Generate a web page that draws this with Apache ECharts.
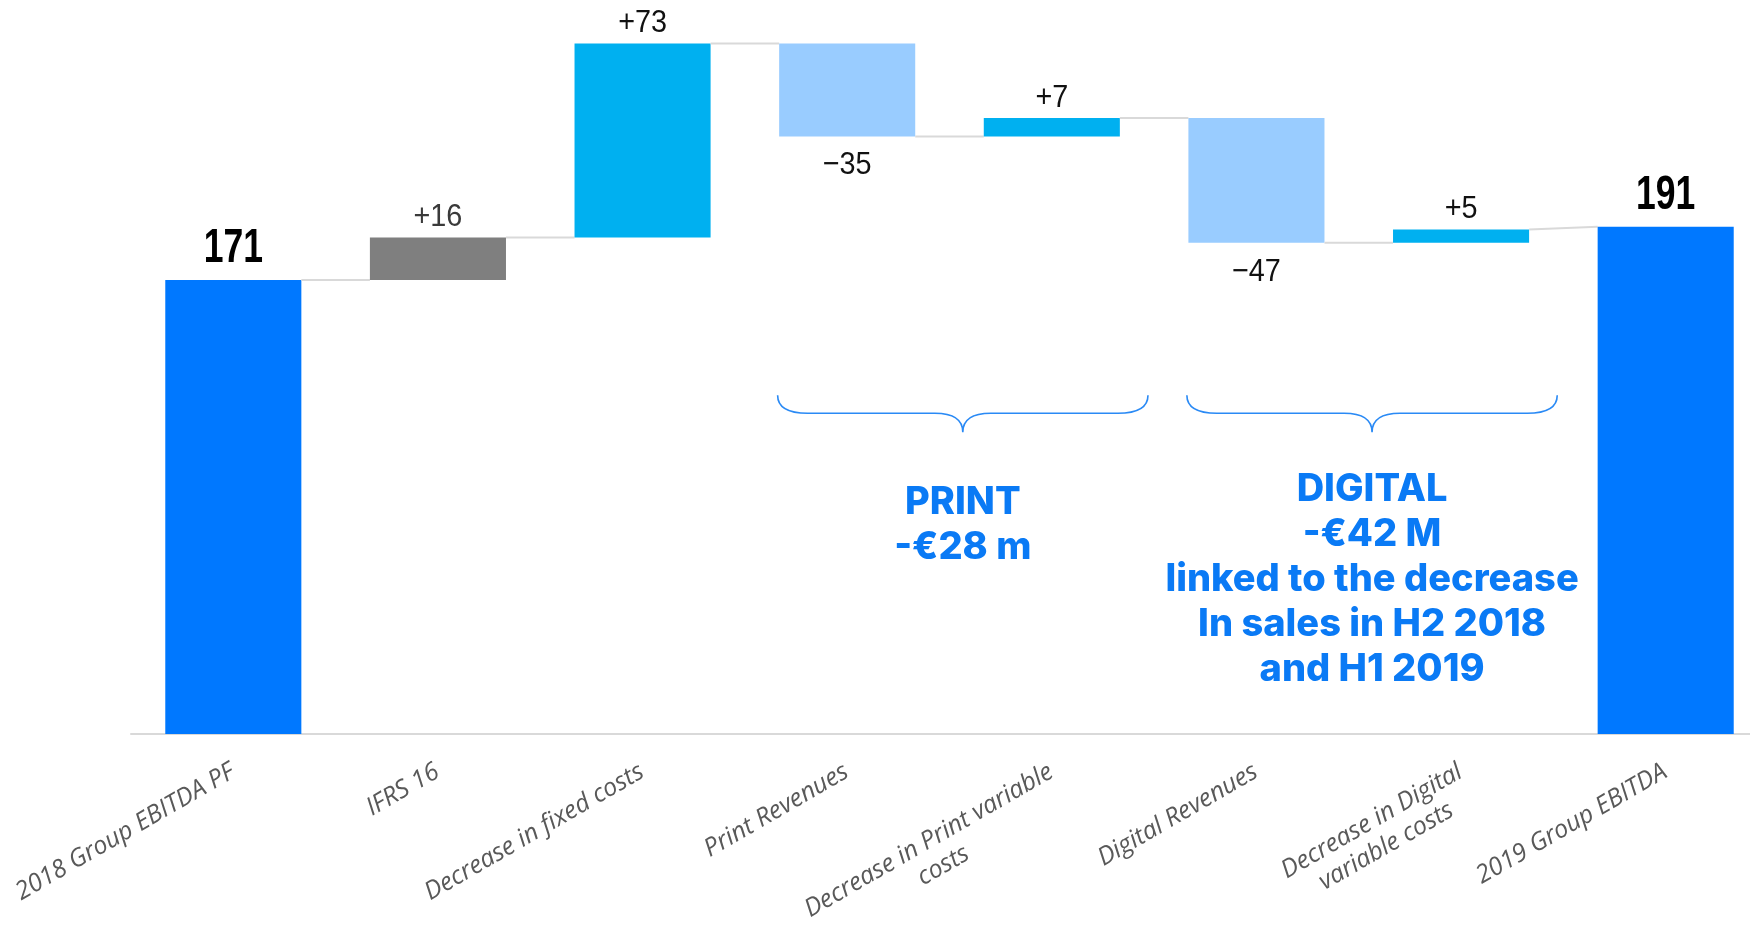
<!DOCTYPE html>
<html>
<head>
<meta charset="utf-8">
<script src="https://cdn.jsdelivr.net/npm/echarts@6/dist/echarts.min.js"></script>
<style>
html,body{margin:0;padding:0;background:#ffffff;}
#chart{width:1750px;height:926px;}
</style>
</head>
<body>
<div id="chart"></div>
<script>
// ---------- DATA ----------
const categories = [
  '2018 Group EBITDA PF',
  'IFRS 16',
  'Decrease in fixed costs',
  'Print Revenues',
  'Decrease in Print variable\ncosts',
  'Digital Revenues',
  'Decrease in Digital\nvariable costs',
  '2019 Group EBITDA'
];
const values = [171, 16, 73, -35, 7, -47, 5, 191];
const kinds = ['total', 'adjust', 'increase', 'decrease', 'increase', 'decrease', 'increase', 'total'];
const valueLabels = ['171', '+16', '+73', '\u221235', '+7', '\u221247', '+5', '191'];
const groupRanges = [[3, 4], [5, 6]];
const groupTexts = [
  'PRINT\n-€28 m',
  'DIGITAL\n-€42 M\nlinked to the decrease\nIn sales in H2 2018\nand H1 2019'
];
const yMin = 0;
const yMax = 270;

// ---------- STYLE / LAYOUT ----------
const STYLE = {
  colors: { total: '#0078FF', adjust: '#7F7F7F', increase: '#00B0F0', decrease: '#99CCFF' },
  labelColors: { total: '#000000', adjust: '#3a3a3a', increase: '#111111', decrease: '#111111' },
  connector: '#d9d9d9',
  brace: '#2a8af5',
  note: '#0a7af5',
  numFont: '"Liberation Sans", Roboto, sans-serif',
  noteFont: 'Inter, Roboto, sans-serif',
  catFont: '"Open Sans", "Noto Sans", sans-serif'
};
const LAYOUT = {
  barRatio: 0.665,
  braceLevel: 120.8,
  braceLeft: 0.34,
  braceRight: 0.47,
  textOffsets: [48, 35]
};

// ---------- BUILD ----------
let running = 0;
const barData = values.map((v, i) => {
  let lo, hi, end;
  if (kinds[i] === 'total') { lo = 0; hi = v; end = v; running = v; }
  else { const s = running; running += v; lo = Math.min(s, running); hi = Math.max(s, running); end = running; }
  return { lo, hi, end };
}).map((b, i) => {
  let next = b.end;
  if (i < values.length - 1 && kinds[i + 1] === 'total') next = values[i + 1];
  return [i, b.lo, b.hi, b.end, next];
});

function renderBar(params, api) {
  const i = api.value(0), lo = api.value(1), hi = api.value(2), end = api.value(3), next = api.value(4);
  const kind = kinds[i];
  const catW = api.size([1, 0])[0];
  const bw = catW * LAYOUT.barRatio;
  const pLo = api.coord([i, lo]);
  const pHi = api.coord([i, hi]);
  const cx = pLo[0];
  const children = [{
    type: 'rect',
    shape: { x: cx - bw / 2, y: pHi[1], width: bw, height: pLo[1] - pHi[1] },
    style: { fill: STYLE.colors[kind] }
  }];
  if (i < categories.length - 1) {
    const a = api.coord([i, end]);
    const b = api.coord([i + 1, next]);
    children.push({
      type: 'line',
      shape: { x1: cx + bw / 2, y1: a[1], x2: b[0] - bw / 2, y2: b[1] },
      style: { stroke: STYLE.connector, lineWidth: 2 }
    });
  }
  const v = values[i];
  let ly, size, weight, sx;
  if (kind === 'total') { ly = pHi[1] - 31; size = 48; weight = 'bold'; sx = 0.74; }
  else if (v >= 0) { ly = pHi[1] - 20; size = 32; weight = 'normal'; sx = 0.9; }
  else { ly = pLo[1] + 29; size = 32; weight = 'normal'; sx = 0.9; }
  children.push({
    type: 'text',
    x: cx, y: ly, scaleX: sx,
    style: {
      text: valueLabels[i],
      fill: STYLE.labelColors[kind],
      fontSize: size, fontWeight: weight, fontFamily: STYLE.numFont,
      align: 'center', verticalAlign: 'middle'
    }
  });
  return { type: 'group', children };
}

function renderBrace(params, api) {
  const f = api.value(0), t = api.value(1), g = params.dataIndex;
  const catW = api.size([1, 0])[0];
  const pf = api.coord([f, LAYOUT.braceLevel]);
  const pt = api.coord([t, LAYOUT.braceLevel]);
  const L = pf[0] - catW * LAYOUT.braceLeft;
  const R = pt[0] + catW * LAYOUT.braceRight;
  const y = pf[1];
  const top = y - 18, tip = y + 19, mid = (L + R) / 2, r = 30, m = 28;
  const d = 'M' + L + ' ' + top + ' Q' + L + ' ' + y + ' ' + (L + r) + ' ' + y +
    ' L' + (mid - m) + ' ' + y + ' Q' + mid + ' ' + y + ' ' + mid + ' ' + tip +
    ' M' + mid + ' ' + tip + ' Q' + mid + ' ' + y + ' ' + (mid + m) + ' ' + y +
    ' L' + (R - r) + ' ' + y + ' Q' + R + ' ' + y + ' ' + R + ' ' + top;
  return {
    type: 'group',
    children: [
      { type: 'path', shape: { pathData: d }, style: { stroke: STYLE.brace, lineWidth: 1.6, fill: 'none' } },
      {
        type: 'text', x: mid, y: tip + LAYOUT.textOffsets[g],
        style: {
          text: groupTexts[g], fill: STYLE.note,
          fontSize: 38, fontWeight: 800, fontFamily: STYLE.noteFont,
          lineHeight: 45, align: 'center', verticalAlign: 'top'
        }
      }
    ]
  };
}

const chart = echarts.init(document.getElementById('chart'), null, { renderer: 'canvas' });
chart.setOption({
  animation: false,
  backgroundColor: '#ffffff',
  grid: { left: 131, width: 1637, top: 17, bottom: 192, containLabel: false, outerBoundsMode: 'none' },
  xAxis: {
    type: 'category',
    data: categories,
    axisLine: { show: true, lineStyle: { color: '#d9d9d9', width: 2 } },
    axisTick: { show: false },
    axisLabel: {
      interval: 0,
      rotate: 30,
      margin: 19,
      padding: [0, 9, 0, 0],
      verticalAlign: 'top',
      color: '#595959',
      fontSize: 25,
      fontStyle: 'italic',
      fontFamily: STYLE.catFont,
      formatter: function (val) {
        return val.split('\n').map(s => '{c|' + s + '}').join('\n');
      },
      rich: {
        c: { align: 'center', color: '#595959', fontSize: 25, fontStyle: 'italic', fontFamily: STYLE.catFont, lineHeight: 29 }
      }
    },
    splitLine: { show: false }
  },
  yAxis: { type: 'value', min: yMin, max: yMax, show: false, splitLine: { show: false } },
  series: [
    {
      type: 'custom',
      renderItem: renderBar,
      encode: { x: 0, y: [1, 2] },
      data: barData,
      z: 2
    },
    {
      type: 'custom',
      renderItem: renderBrace,
      encode: { x: [0, 1] },
      data: groupRanges,
      z: 3
    }
  ]
});
</script>
</body>
</html>
